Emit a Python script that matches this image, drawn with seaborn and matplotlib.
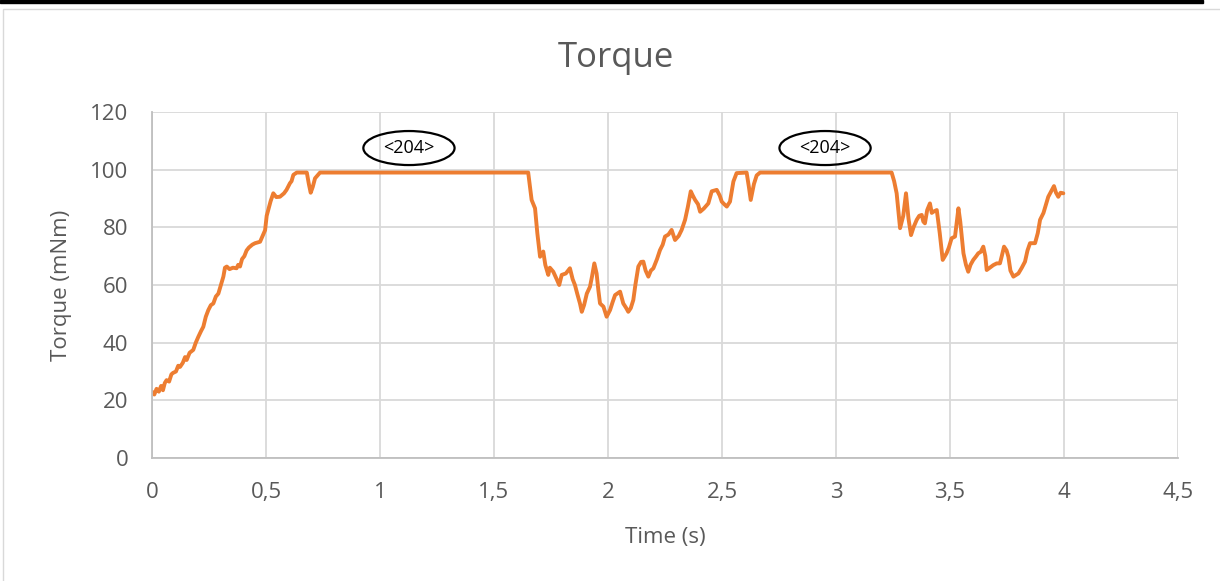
# %% Torque trace
import numpy as np
import pandas as pd
import seaborn as sns
import matplotlib.pyplot as plt
from matplotlib.patches import Ellipse, Rectangle

# Values
time_s = [
    0.000, 0.010, 0.020, 0.030, 0.040, 0.048, 0.056, 0.064, 0.075, 0.085,
    0.092, 0.105, 0.115, 0.123, 0.135, 0.145, 0.152, 0.165, 0.181, 0.192,
    0.203, 0.215, 0.225, 0.236, 0.247, 0.258, 0.269, 0.280, 0.291, 0.302,
    0.313, 0.320, 0.328, 0.340, 0.355, 0.371, 0.378, 0.386, 0.395, 0.405,
    0.415, 0.425, 0.440, 0.452, 0.474, 0.485, 0.496, 0.503, 0.510, 0.520,
    0.532, 0.545, 0.561, 0.579, 0.590, 0.605, 0.612, 0.620, 0.635, 0.679,
    0.688, 0.696, 0.705, 0.715, 0.737, 1.650, 1.665, 1.680, 1.690, 1.702,
    1.716, 1.725, 1.738, 1.745, 1.760, 1.775, 1.786, 1.797, 1.815, 1.833,
    1.845, 1.855, 1.865, 1.877, 1.885, 1.895, 1.907, 1.921, 1.930, 1.940,
    1.950, 1.958, 1.965, 1.980, 1.994, 2.009, 2.020, 2.031, 2.053, 2.067,
    2.080, 2.089, 2.100, 2.111, 2.120, 2.133, 2.145, 2.155, 2.165, 2.177,
    2.188, 2.199, 2.215, 2.228, 2.240, 2.250, 2.265, 2.279, 2.294, 2.310,
    2.323, 2.338, 2.350, 2.363, 2.372, 2.382, 2.395, 2.404, 2.420, 2.440,
    2.455, 2.477, 2.490, 2.499, 2.510, 2.521, 2.535, 2.550, 2.564, 2.608,
    2.618, 2.626, 2.640, 2.652, 2.667, 3.244, 3.255, 3.266, 3.281, 3.295,
    3.307, 3.318, 3.329, 3.340, 3.354, 3.365, 3.376, 3.383, 3.390, 3.400,
    3.412, 3.420, 3.427, 3.442, 3.455, 3.468, 3.485, 3.495, 3.507, 3.522,
    3.530, 3.537, 3.545, 3.559, 3.570, 3.580, 3.590, 3.602, 3.615, 3.624,
    3.635, 3.646, 3.655, 3.661, 3.675, 3.690, 3.705, 3.719, 3.727, 3.737,
    3.748, 3.756, 3.765, 3.778, 3.790, 3.800, 3.815, 3.829, 3.840, 3.851,
    3.873, 3.885, 3.895, 3.910, 3.931, 3.956, 3.965, 3.975, 3.985, 3.997,
]
torque_mnm = [
    23, 22, 24, 23, 25, 23.5, 26, 27, 26.5, 29,
    29.5, 30, 32, 31.6, 33, 35, 34, 36.5, 37.5, 40,
    42, 44, 45.5, 49, 51.3, 53, 53.6, 56, 57, 60,
    62.9, 66, 66.4, 65.5, 66, 65.8, 67, 66.4, 69, 70,
    72, 73, 74, 74.5, 75, 77, 79, 84, 86, 89,
    91.8, 90.5, 90.6, 91.8, 93, 95.3, 96, 98.2, 99, 99,
    95, 92, 94, 97, 99, 99, 89.5, 86.6, 78, 69.8,
    71.6, 67, 63.5, 66, 64.6, 62, 60, 63.5, 64, 65.8,
    62, 60, 57, 53.6, 50.7, 53, 57, 59.4, 63, 67.5,
    64, 58, 53.6, 52.5, 49, 51.3, 54, 56.5, 57.7, 53.6,
    52, 50.7, 52, 54.8, 60, 66.4, 68, 68.1, 65, 62.9,
    65, 65.8, 69, 72.1, 74, 76.8, 77.5, 79.1, 75.6, 77,
    79.1, 82.6, 87, 92.5, 91, 89.5, 88, 85.4, 86.5, 88.3,
    92.5, 93, 91, 88.9, 88, 87.2, 88.9, 95.9, 98.8, 99,
    94, 89.5, 95, 98, 99, 99, 96, 91.8, 79.7, 84,
    91.8, 83, 77.3, 80, 82.6, 84, 84.3, 82, 81.4, 86,
    88.3, 85, 85.4, 86, 78, 68.7, 71, 73, 76.2, 76.8,
    82, 86.6, 82, 71, 67, 64.6, 67, 68.7, 70, 71,
    71.5, 73.3, 70, 65.2, 66, 66.9, 67.5, 67.5, 70, 73.3,
    72, 69.8, 65, 62.9, 63.5, 64, 66, 68.1, 72, 74.5,
    74.5, 78, 82.6, 85, 90.6, 94.3, 92, 90.6, 92, 91.8,
]

x_ticks = [0, 0.5, 1, 1.5, 2, 2.5, 3, 3.5, 4, 4.5]
x_tick_labels = ['0', '0,5', '1', '1,5', '2', '2,5', '3', '3,5', '4', '4,5']
y_ticks = [0, 20, 40, 60, 80, 100, 120]

# callouts "<204>" on the two saturated plateaus
callout_x = [1.127, 2.952]
callout_y = [107.5, 107.5]
callout_text = ['<204>', '<204>']

df = pd.DataFrame({'Time': time_s, 'Torque': torque_mnm})

sns.set_style('white')
plt.rcParams['font.family'] = ['Open Sans', 'DejaVu Sans']
text_grey = '#595959'

fig = plt.figure(figsize=(12.2, 5.81), dpi=100)
ax = fig.add_axes([152 / 1220, 1 - 458 / 581, 1026 / 1220, 346 / 581])

sns.lineplot(data=df, x='Time', y='Torque', ax=ax, color='#ED7D31',
             linewidth=2.8, estimator=None, sort=False)

ax.set_xlim(0, 4.5)
ax.set_ylim(0, 120)
ax.set_xticks(x_ticks)
ax.set_xticklabels(x_tick_labels)
ax.set_yticks(y_ticks)
ax.grid(True, color='#d9d9d9', linewidth=1.3)
ax.set_axisbelow(True)
ax.tick_params(length=0, labelsize=16, labelcolor=text_grey, pad=17)
for side in ['top', 'right']:
    ax.spines[side].set_visible(False)
for side in ['left', 'bottom']:
    ax.spines[side].set_color('#bfbfbf')
    ax.spines[side].set_linewidth(1.3)

ax.set_xlabel('Time (s)', fontsize=16, color=text_grey)
ax.set_ylabel('Torque (mNm)', fontsize=16, color=text_grey)
ax.xaxis.set_label_coords(0.5, -0.2)
ax.yaxis.set_label_coords(-0.078, 0.5)

fig.text(616 / 1220, 1 - 58 / 581, 'Torque', fontsize=25, color=text_grey,
         ha='center', va='center')

for cx, cy, lab in zip(callout_x, callout_y, callout_text):
    ax.add_patch(Ellipse((cx, cy), 0.40, 11.8, fill=False, edgecolor='black',
                         linewidth=1.6, clip_on=False, zorder=5))
    ax.text(cx, cy, lab, ha='center', va='center', fontsize=13,
            color='black', zorder=6)

# chart frame like the source screenshot
fig.patches.append(Rectangle((0, 1 - 3 / 581), 1203 / 1220, 3 / 581,
                             transform=fig.transFigure, color='black'))
fig.patches.append(Rectangle((3 / 1220, -0.1), 1.5, 1.1 - 9 / 581,
                             transform=fig.transFigure, fill=False,
                             edgecolor='#d9d9d9', linewidth=1))

plt.savefig('out.png', dpi=100)
